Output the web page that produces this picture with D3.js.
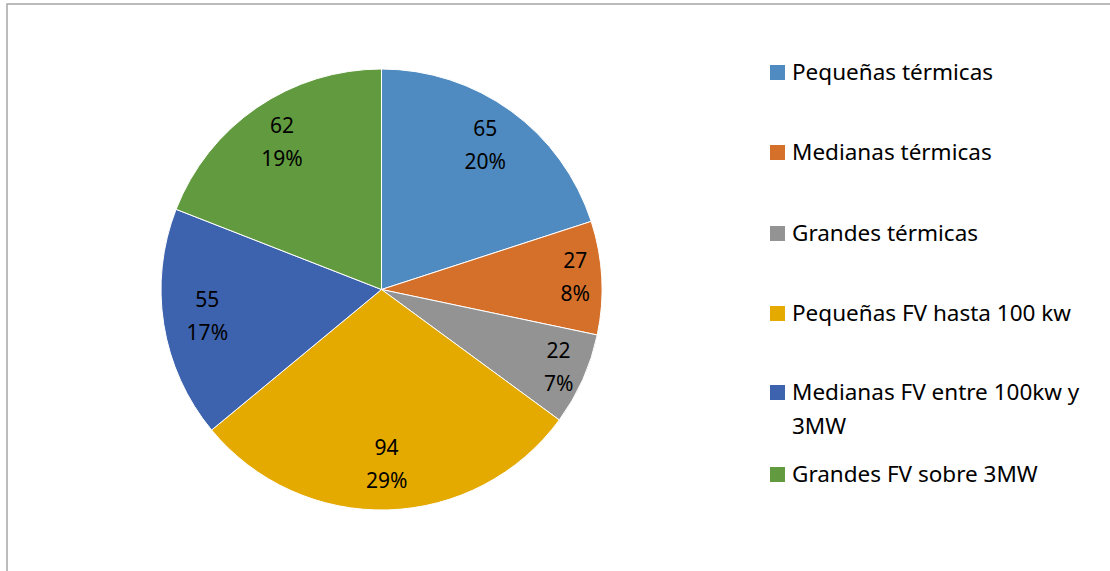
<!DOCTYPE html>
<html>
<head>
<meta charset="utf-8">
<script src="https://cdn.jsdelivr.net/npm/d3@7"></script>
<style>
  body { margin: 0; background: #fff; }
  svg { display: block; font-family: "Noto Sans", Lato, sans-serif; }
</style>
</head>
<body>
<svg id="chart" width="1110" height="571"></svg>
<script>
// data
var categories = ["Pequeñas térmicas", "Medianas térmicas", "Grandes térmicas",
                  "Pequeñas FV hasta 100 kw", "Medianas FV entre 100kw y 3MW", "Grandes FV sobre 3MW"];
var values = [65, 27, 22, 94, 55, 62];
var legendLines = [["Pequeñas térmicas"], ["Medianas térmicas"], ["Grandes térmicas"],
                   ["Pequeñas FV hasta 100 kw"], ["Medianas FV entre 100kw y", "3MW"], ["Grandes FV sobre 3MW"]];
var colors = ["#4f8bc0", "#d5702b", "#939393", "#e4aa00", "#3e63ae", "#629b3f"];

var svg = d3.select("#chart"),
    width = +svg.attr("width"),
    height = +svg.attr("height");

// chart frame (only left and top visible)
svg.append("rect")
    .attr("x", 7).attr("y", 4)
    .attr("width", width + 10).attr("height", height + 10)
    .attr("fill", "none")
    .attr("stroke", "#a6a6a6")
    .attr("stroke-width", 1.5);

var cx = 381.5, cy = 289.5, r = 220.5;
var total = d3.sum(values);

var pie = d3.pie().sort(null).value(function(d) { return d; });
var arcs = pie(values);

var arc = d3.arc().innerRadius(0).outerRadius(r);

var g = svg.append("g").attr("transform", "translate(" + cx + "," + cy + ")");

g.selectAll("path")
  .data(arcs)
  .enter().append("path")
    .attr("d", arc)
    .attr("fill", function(d, i) { return colors[i]; })
    .attr("stroke", "#fff")
    .attr("stroke-width", 1);

// labels: value and percent, inside the slice
g.selectAll("g.lbl")
  .data(arcs)
  .enter().append("g")
    .attr("class", "lbl")
    .each(function(d, i) {
      var share = d.value / total;
      var k = share < 0.1 ? 0.88 : 0.8;
      var a = (d.startAngle + d.endAngle) / 2;
      var x = Math.sin(a) * r * k, y = -Math.cos(a) * r * k;
      var t = d3.select(this).append("text")
          .attr("text-anchor", "middle")
          .attr("font-size", 21)
          .attr("fill", "#000");
      t.append("tspan").attr("x", x).attr("y", y - 11).text(d.value);
      t.append("tspan").attr("x", x).attr("y", y + 22).text(Math.round(share * 100) + "%");
    });

// legend
var legendY = [72, 152, 233, 313, 392, 474];
var lg = svg.append("g");
legendLines.forEach(function(lines, i) {
  lg.append("rect")
    .attr("x", 770).attr("y", legendY[i] - 7)
    .attr("width", 15).attr("height", 15)
    .attr("fill", colors[i]);
  var t = lg.append("text")
    .attr("font-size", 22.5)
    .attr("fill", "#000");
  lines.forEach(function(line, j) {
    t.append("tspan").attr("x", 792).attr("y", legendY[i] + 8 + j * 34).text(line);
  });
});
</script>
</body>
</html>
